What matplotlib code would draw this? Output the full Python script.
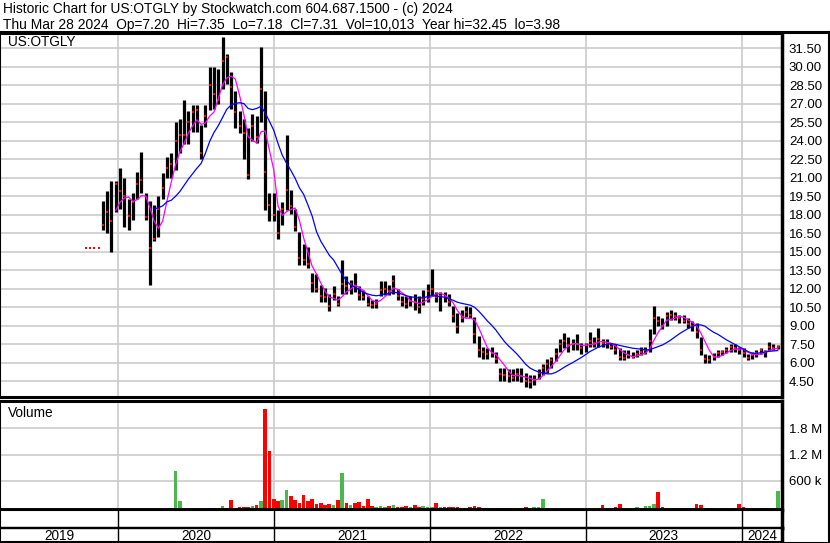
import matplotlib
matplotlib.use("Agg")
import matplotlib.pyplot as plt
from matplotlib.lines import Line2D
import numpy as np
import pandas as pd

plt.rcParams['font.family'] = ['Liberation Sans', 'DejaVu Sans']

# one sample every 10 days
first_day = "2019-10-18"

highs = [15.3, 15.3, 15.3, 15.3, 19.1, 19.9, 20.7, 20.7, 21.8, 21.0,
         19.3, 19.8, 21.5, 23.1, 19.8, 19.1, 18.8, 19.5, 21.4, 22.7,
         23.0, 25.5, 25.8, 27.3, 26.4, 26.9, 26.9, 25.3, 26.9, 30.0,
         30.0, 29.8, 32.4, 31.0, 29.6, 28.0, 26.4, 25.8, 25.0, 26.2,
         26.0, 31.6, 28.0, 19.8, 19.8, 18.4, 19.0, 24.5, 20.0, 18.5,
         16.6, 15.6, 15.4, 13.3, 13.2, 12.3, 12.1, 11.6, 12.2, 11.4,
         14.3, 13.0, 12.7, 13.3, 12.2, 11.9, 11.4, 11.1, 11.2, 12.6,
         12.6, 12.3, 13.1, 12.0, 11.4, 11.4, 11.4, 11.6, 11.4, 11.9,
         12.4, 13.6, 11.7, 11.7, 11.7, 11.6, 10.6, 10.0, 10.3, 10.6,
         10.5, 9.7, 8.2, 7.3, 7.2, 7.3, 6.9, 5.6, 5.6, 5.5,
         5.5, 5.6, 5.6, 5.2, 5.0, 5.0, 5.5, 5.9, 6.3, 6.5,
         7.2, 7.9, 8.4, 8.1, 7.9, 8.3, 7.6, 7.6, 8.5, 8.1,
         8.8, 7.9, 7.9, 7.6, 7.5, 7.2, 7.0, 7.0, 6.9, 7.0,
         7.3, 7.3, 8.7, 10.6, 9.8, 9.6, 10.1, 10.3, 10.1, 9.9,
         9.9, 9.6, 9.4, 9.2, 8.1, 6.7, 6.6, 6.8, 7.0, 7.0,
         7.3, 7.5, 7.5, 7.3, 7.2, 6.7, 6.9, 7.0, 7.2, 7.0,
         7.7, 7.5, 7.4]

lows = [15.3, 15.3, 15.3, 15.3, 16.8, 16.5, 15.0, 18.2, 18.5, 17.0,
        16.8, 17.6, 19.3, 19.8, 17.6, 12.3, 15.9, 16.2, 19.3, 21.0,
        21.0, 21.6, 23.0, 23.7, 23.7, 24.7, 24.7, 22.5, 25.1, 26.5,
        26.6, 27.0, 28.2, 28.6, 26.6, 25.0, 24.6, 22.5, 20.9, 24.0,
        23.8, 25.5, 18.4, 17.5, 17.5, 16.0, 17.2, 18.4, 18.1, 16.7,
        13.9, 13.9, 13.7, 11.7, 11.7, 10.9, 10.9, 10.2, 11.1, 10.6,
        11.6, 11.6, 11.6, 11.7, 11.1, 11.1, 10.6, 10.4, 10.4, 11.4,
        11.5, 11.5, 11.6, 11.1, 10.6, 10.4, 10.6, 10.3, 10.0, 10.7,
        10.9, 11.4, 10.9, 10.2, 10.9, 10.6, 9.3, 8.4, 9.3, 9.7,
        9.6, 7.6, 6.5, 6.3, 6.3, 6.5, 6.0, 4.5, 4.5, 4.4,
        4.5, 4.5, 4.4, 4.05, 3.98, 4.2, 4.7, 5.0, 5.2, 5.6,
        6.1, 6.9, 7.2, 6.9, 7.0, 7.0, 6.7, 6.9, 7.3, 7.3,
        7.3, 7.3, 7.2, 7.1, 6.7, 6.2, 6.2, 6.4, 6.4, 6.5,
        6.6, 6.7, 6.9, 8.3, 9.0, 8.7, 9.0, 9.5, 9.5, 9.2,
        9.2, 8.8, 8.6, 8.0, 6.6, 6.0, 6.0, 6.2, 6.5, 6.6,
        6.8, 6.9, 6.9, 6.7, 6.5, 6.2, 6.3, 6.5, 6.7, 6.5,
        7.0, 7.0, 7.1]

closes = [15.3, 15.3, 15.3, 15.3, 17.2, 18.2, 17.5, 20.5, 19.9, 19.5,
          17.9, 19.0, 20.5, 20.8, 17.8, 15.3, 16.0, 18.5, 20.2, 21.8,
          22.1, 24.0, 24.5, 24.5, 25.5, 26.3, 26.5, 23.0, 26.0, 28.5,
          27.8, 27.3, 30.5, 30.8, 28.4, 26.3, 25.2, 24.6, 21.2, 25.2,
          24.3, 28.2, 21.5, 18.8, 18.0, 16.5, 18.5, 20.0, 18.7, 17.0,
          14.5, 14.3, 14.0, 12.5, 12.0, 11.4, 11.3, 10.6, 11.6, 10.8,
          12.4, 12.2, 12.4, 12.2, 11.5, 11.3, 10.8, 10.7, 10.8, 11.9,
          12.0, 11.8, 12.6, 11.4, 10.9, 10.8, 11.0, 10.9, 10.5, 11.2,
          11.8, 12.0, 11.3, 11.4, 11.3, 10.9, 9.8, 8.9, 9.6, 10.1,
          9.9, 8.3, 7.0, 6.9, 6.7, 6.8, 6.3, 5.1, 5.0, 4.9,
          4.8, 5.1, 4.9, 4.5, 4.4, 4.6, 5.2, 5.6, 5.9, 6.2,
          6.7, 7.5, 7.8, 7.4, 7.5, 7.5, 7.2, 7.4, 7.8, 7.6,
          7.9, 7.6, 7.5, 7.3, 7.0, 6.5, 6.4, 6.6, 6.5, 6.7,
          6.9, 7.0, 7.8, 9.6, 9.4, 9.0, 9.8, 9.9, 9.8, 9.6,
          9.4, 9.1, 9.0, 8.5, 7.0, 6.3, 6.2, 6.5, 6.8, 6.9,
          7.0, 7.3, 7.2, 7.0, 6.8, 6.4, 6.6, 6.8, 7.0, 6.9,
          7.3, 7.2, 7.31]

volume_k = [20, 0, 20, 15, 25, 30, 25, 20, 25, 30,
            25, 20, 25, 30, 25, 30, 25, 30, 25, 30,
            35, 900, 215, 30, 25, 30, 35, 30, 35, 40,
            40, 45, 90, 50, 230, 50, 60, 75, 60, 90,
            110, 200, 2310, 1360, 250, 200, 230, 460, 320, 230,
            150, 350, 200, 250, 130, 150, 120, 130, 110, 230,
            850, 150, 120, 160, 175, 90, 250, 100, 80, 90,
            75, 100, 110, 80, 70, 90, 75, 110, 80, 90,
            75, 60, 155, 60, 75, 60, 75, 60, 55, 50,
            60, 100, 70, 55, 45, 40, 50, 45, 40, 45,
            55, 50, 40, 60, 45, 60, 70, 250, 50, 30,
            25, 25, 30, 25, 25, 30, 25, 20, 25, 25,
            30, 110, 30, 25, 80, 130, 30, 25, 30, 75,
            40, 90, 100, 130, 415, 60, 35, 40, 35, 40,
            45, 40, 50, 130, 110, 50, 40, 35, 30, 40,
            35, 30, 40, 130, 60, 50, 45, 40, 45, 50,
            40, 35, 440]

price_ticks = [4.5, 6.0, 7.5, 9.0, 10.5, 12.0, 13.5, 15.0, 16.5, 18.0, 19.5,
               21.0, 22.5, 24.0, 25.5, 27.0, 28.5, 30.0, 31.5]
vol_ticks = [600e3, 1.2e6, 1.8e6]
vol_labels = ["600 k", "1.2 M", "1.8 M"]
years = [2019, 2020, 2021, 2022, 2023, 2024]

title1 = "Historic Chart for US:OTGLY by Stockwatch.com 604.687.1500 - (c) 2024"
title2 = "Thu Mar 28 2024  Op=7.20  Hi=7.35  Lo=7.18  Cl=7.31  Vol=10,013  Year hi=32.45  lo=3.98"

n = len(closes)
dates = pd.date_range(first_day, periods=n, freq="10D")
close_s = pd.Series(closes, index=dates)
ma_src = close_s.copy()
ma_src.iloc[:4] = np.nan  # the lone dots before trading starts
ma_short = ma_src.rolling(4).mean()
ma_long = ma_src.rolling(13).mean()
vol = np.array(volume_k) * 1000.0
diff = close_s.diff().fillna(0).values
vol_colors = np.where(diff > 0, "#4cb84c", np.where(diff < 0, "#ff0000", "#a8a8a8"))

W, H = 830, 543
fig = plt.figure(figsize=(W / 100, H / 100), dpi=100)


def rect(x0, y0, x1, y1):
    return [x0 / W, 1 - y1 / H, (x1 - x0) / W, (y1 - y0) / H]


ax_p = fig.add_axes(rect(0, 33, 782, 397))
ax_v = fig.add_axes(rect(0, 401, 782, 510), sharex=ax_p)
ax_gap = fig.add_axes(rect(0, 510, 782, 528), sharex=ax_p)
ax_yr = fig.add_axes(rect(0, 528, 782, 542), sharex=ax_p)

xmin = pd.Timestamp("2019-03-31")
xmax = pd.Timestamp("2024-04-04")
ax_p.set_xlim(xmin, xmax)
year_starts = [pd.Timestamp(f"{y}-01-01") for y in years[1:]]

grid_c = "#cccccc"

# price panel
for t in price_ticks:
    ax_p.axhline(t, color=grid_c, lw=1.2, zorder=0)
for d in year_starts:
    ax_p.axvline(d, color=grid_c, lw=1.2, zorder=0)
ax_p.vlines(dates, lows, highs, color="black", lw=2.3, zorder=2)
ax_p.plot(dates, closes, "s", color="red", ms=1.7, mew=0, zorder=3)
ax_p.plot(dates, ma_short, color="#ff00ff", lw=0.9, zorder=4)
ax_p.plot(dates, ma_long, color="#0000ff", lw=0.9, zorder=4)
ax_p.set_ylim(3.22, 32.74)
ax_p.yaxis.tick_right()
ax_p.set_yticks(price_ticks)
ax_p.set_yticklabels([f"{t:.2f}" for t in price_ticks])
ax_p.tick_params(axis="y", length=0, pad=5, labelsize=9.5)
ax_p.tick_params(axis="x", bottom=False, labelbottom=False)

# volume panel
for t in vol_ticks:
    ax_v.axhline(t, color=grid_c, lw=1.2, zorder=0)
for d in year_starts:
    ax_v.axvline(d, color=grid_c, lw=1.2, zorder=0)
ax_v.bar(dates, vol, width=8.5, bottom=-70e3, color=vol_colors, zorder=2)
ax_v.set_ylim(-70e3, 2.43e6)
ax_v.yaxis.tick_right()
ax_v.set_yticks(vol_ticks)
ax_v.set_yticklabels(vol_labels)
ax_v.tick_params(axis="y", length=0, pad=5, labelsize=9.5)
ax_v.tick_params(axis="x", bottom=False, labelbottom=False)

# date strips
for a in (ax_gap, ax_yr):
    a.set_yticks([])
    a.tick_params(axis="x", bottom=False, labelbottom=False)
    for d in year_starts:
        a.axvline(d, color="black", lw=1.0)
for y in years:
    lo = max(pd.Timestamp(f"{y}-01-01"), xmin)
    hi = min(pd.Timestamp(f"{y + 1}-01-01"), xmax)
    ax_yr.text(lo + (hi - lo) / 2, 0.45, str(y), ha="center", va="center",
               fontsize=9.8, transform=ax_yr.get_xaxis_transform())

# frames
for a, top, bottom in ((ax_p, 2.2, 2.2), (ax_v, 2.2, 2.8), (ax_gap, 1.5, 2.5), (ax_yr, 1.0, 1.5)):
    a.spines["top"].set_linewidth(top)
    a.spines["bottom"].set_linewidth(bottom)
    a.spines["left"].set_linewidth(1.5)
    a.spines["right"].set_linewidth(2.5)

fig.add_artist(Line2D([0, 1], [1 - 32 / H, 1 - 32 / H], color="black", lw=2.2,
                      transform=fig.transFigure))
fig.add_artist(Line2D([829 / W, 829 / W], [0, 1 - 32 / H], color="black", lw=1.5,
                      transform=fig.transFigure))
fig.add_artist(Line2D([0, 1], [0.5 / H, 0.5 / H], color="black", lw=1.5,
                      transform=fig.transFigure))

fig.text(3 / W, 1 - 9 / H, title1, fontsize=9.9, va="center", ha="left")
fig.text(3 / W, 1 - 25 / H, title2, fontsize=9.9, va="center", ha="left")
fig.text(8 / W, 1 - 42 / H, "US:OTGLY", fontsize=9.8, va="center", ha="left")
fig.text(8 / W, 1 - 413 / H, "Volume", fontsize=9.8, va="center", ha="left")

fig.savefig("out.png", dpi=100)
